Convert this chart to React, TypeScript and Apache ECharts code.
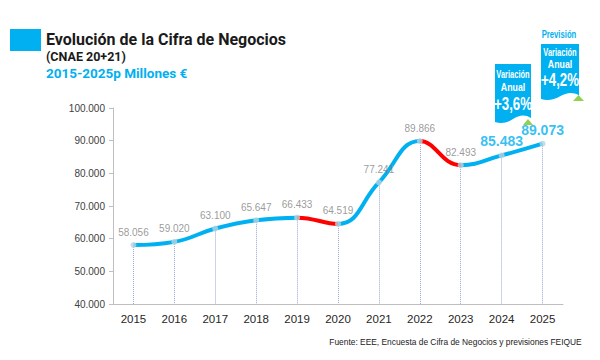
import React, { useEffect, useRef } from "react";
import * as echarts from "echarts";

const years = ["2015", "2016", "2017", "2018", "2019", "2020", "2021", "2022", "2023", "2024", "2025"];
const values = [58056, 59020, 63100, 65647, 66433, 64519, 77241, 89866, 82493, 85483, 89073];
const declineSegments = [[4, 5], [7, 8]];
const yMin = 40000;
const yMax = 100000;
const yStep = 10000;
const callouts = [
  { top: "", line1: "Variación", line2: "Anual", pct: "+3,6%" },
  { top: "Previsión", line1: "Variación", line2: "Anual", pct: "+4,2%" },
];

const BLUE = "#00b0f0";
const RED = "#ff0000";
const GREEN = "#92d050";

const fmt = (v: number) => String(v).replace(/\B(?=(\d{3})+(?!\d))/g, ".");

let registered = false;
function registerBanner() {
  if (registered) return;
  registered = true;
  const d = "M0 0 L36 0 L36 54 C30 50 24 51 18 55 C12 59 6 60 0 58 Z";
  echarts.graphic.registerShape("banner", echarts.graphic.extendPath(d, {}) as any);
}

export default function App() {
  const ref = useRef<HTMLDivElement>(null);
  useEffect(() => {
    if (!ref.current) return;
    registerBanner();
    const chart = echarts.init(ref.current, null, { renderer: "svg" });

    const pieces: any[] = [];
    let start = 0;
    declineSegments.forEach(([a, b]) => {
      pieces.push({ gte: start, lt: a, color: BLUE });
      pieces.push({ gte: a, lte: b, color: RED });
      start = b;
    });
    pieces.push({ gt: start, lte: years.length, color: BLUE });

    const font = "'Liberation Sans', Arial";

    const boxes = [
      { x: 495, y: 64, w: 36, h: 60, tri: [523, 125, 533], triTop: 119, off: [11, 23, 39] },
      { x: 541, y: 44, w: 38, h: 57, tri: [573, 101, 584], triTop: 95, off: [9, 20, 35] },
    ];

    const txt = (x: number, y: number, text: string, fill: string, fontStr: string, align = "left", sx = 1) => ({
      type: "text", x, y, scaleX: sx,
      style: { text, fill, font: fontStr, align, verticalAlign: "middle" },
    });

    const graphic: any[] = [
      { type: "rect", shape: { x: 10, y: 29, width: 31, height: 22 }, style: { fill: BLUE } },
      txt(46, 39, "Evolución de la Cifra de Negocios", "#1a1a1a", "bold 16px Roboto"),
      txt(46, 56, "(CNAE 20+21)", "#1a1a1a", "bold 12.5px Roboto"),
      txt(46, 73, "2015-2025p Millones €", BLUE, "bold 13.5px Roboto"),
      txt(455.5, 342, "Fuente: EEE, Encuesta de Cifra de Negocios y previsiones FEIQUE", "#222", `8.4px ${font}`, "center"),
    ];

    callouts.forEach((c, i) => {
      const b = boxes[i];
      const cx = b.x + b.w / 2;
      graphic.push({
        type: "banner", x: b.x, y: b.y, scaleX: b.w / 36, scaleY: b.h / 60,
        style: { fill: BLUE },
      });
      graphic.push({
        type: "polygon",
        shape: { points: [[b.tri[0], b.tri[1]], [b.tri[2], b.tri[1]], [(b.tri[0] + b.tri[2]) / 2, b.triTop]] },
        style: { fill: GREEN },
      });
      if (c.top) graphic.push(txt(cx - 1, b.y - 9, c.top, BLUE, `bold 10px ${font}`, "center", 0.77));
      graphic.push(txt(cx, b.y + b.off[0], c.line1, "#fff", `bold 10px ${font}`, "center", 0.75));
      graphic.push(txt(cx, b.y + b.off[1], c.line2, "#fff", `bold 11px ${font}`, "center", 0.8));
      graphic.push(txt(cx, b.y + b.off[2], c.pct, "#fff", `bold 19px ${font}`, "center", 0.7));
    });

    const last = values.length - 2;

    chart.setOption({
      animation: false,
      grid: { left: 113, right: 37, top: 108, bottom: 56 },
      xAxis: {
        type: "category",
        data: years,
        boundaryGap: true,
        axisLine: { lineStyle: { color: "#bfbfbf" } },
        axisTick: { show: false },
        axisLabel: { color: "#262626", fontSize: 11.5, fontFamily: font, margin: 9 },
      },
      yAxis: {
        type: "value",
        min: yMin,
        max: yMax,
        interval: yStep,
        axisLine: { show: true, lineStyle: { color: "#bfbfbf" } },
        axisTick: { show: true, length: 4, lineStyle: { color: "#bfbfbf" } },
        splitLine: { show: false },
        axisLabel: { color: "#404040", fontSize: 10, fontFamily: font, margin: 8, formatter: (v: number) => fmt(v) },
      },
      visualMap: {
        type: "piecewise",
        show: false,
        dimension: 0,
        seriesIndex: 0,
        pieces,
      },
      series: [
        {
          type: "line",
          data: values,
          smooth: 0.45,
          symbol: "none",
          lineStyle: { width: 4 },
          z: 3,
        },
        {
          type: "scatter",
          data: values.map((v, i) => ({
            value: v,
            label: i >= last
              ? { color: BLUE, fontSize: 14, fontWeight: "bold", fontFamily: font, distance: 4 }
              : undefined,
          })),
          symbol: "circle",
          symbolSize: 6,
          itemStyle: { color: "#b4d6e2" },
          z: 4,
          label: {
            show: true,
            position: "top",
            distance: 5,
            color: "#7f7f7f",
            fontSize: 10,
            fontFamily: font,
            formatter: (p: any) => fmt(p.value),
          },
          markLine: {
            silent: true,
            symbol: "none",
            label: { show: false },
            lineStyle: { color: "#98a8d8", width: 1, type: "dotted" },
            data: values.map((v, i) => [{ coord: [i, v] }, { coord: [i, yMin] }]),
            z: 1,
          },
        },
      ],
      graphic,
    });
    return () => chart.dispose();
  }, []);
  return <div ref={ref} style={{ position: "fixed", left: 0, top: 0, width: 600, height: 360, background: "#fff" }} />;
}
